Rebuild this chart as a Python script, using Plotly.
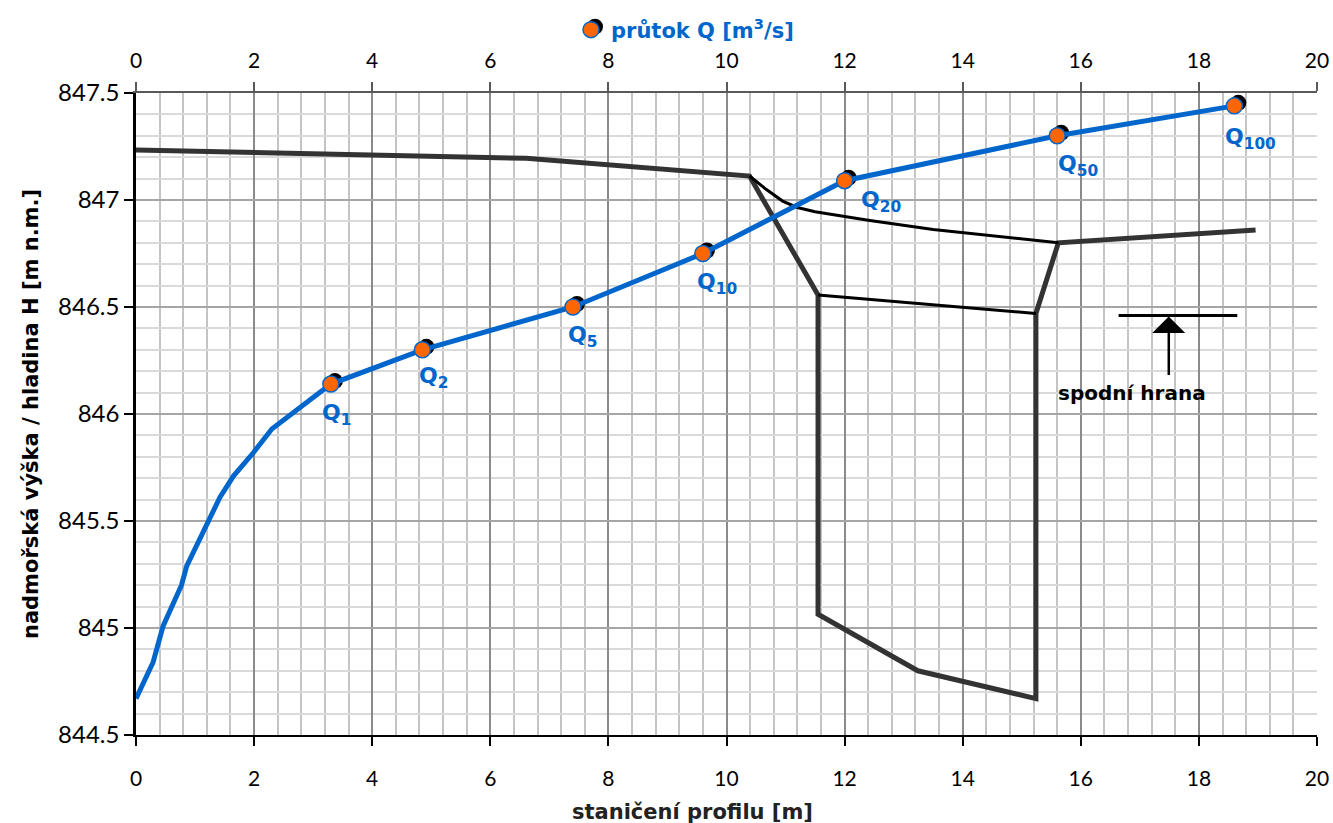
import plotly.graph_objects as go

# --- rating curve (discharge Q vs. water level H) ---
low_flow = [0.0, 0.29, 0.46, 0.77, 0.86, 1.17, 1.42, 1.65, 1.99, 2.30]
low_level = [844.67, 844.84, 845.01, 845.20, 845.29, 845.47, 845.61, 845.71, 845.82, 845.93]

q_names = ["1", "2", "5", "10", "20", "50", "100"]
q_flow = [3.30, 4.85, 7.40, 9.60, 12.00, 15.60, 18.60]
q_level = [846.14, 846.30, 846.50, 846.75, 847.09, 847.30, 847.44]

# label offsets (px) for the Q_N labels
q_xshift = [-11, -5, -7, -8, 14, -1, -11]
q_yshift = [-14, -11, -13, -13, -4, -13, -16]

# --- cross-section of the profile ---
bank_x = [0.0, 6.61, 10.39, 11.55, 11.55, 13.24, 15.24, 15.24, 15.62, 18.96]
bank_h = [847.234, 847.195, 847.112, 846.556, 845.064, 844.80, 844.67, 846.47, 846.80, 846.86]

deck_x = [10.39, 10.67, 10.95, 11.20, 11.50, 12.40, 13.50, 15.62]
deck_h = [847.112, 847.05, 846.995, 846.965, 846.945, 846.905, 846.862, 846.80]

soffit_x = [11.55, 15.24]
soffit_h = [846.556, 846.47]

# bottom-edge marker
edge_x = [16.64, 18.65]
edge_h = 846.46
arrow_x = 17.49
arrow_tail_h = 846.175
edge_label_x = 16.87
edge_label_h = 846.10

X_RANGE = [0, 20]
Y_RANGE = [844.5, 847.5]

W, H = 1333, 823
M = dict(l=136, r=16, t=0, b=88)
PLOT_TOP = 93                       # px from the top where the axes start
paper_w = W - M["l"] - M["r"]
paper_h = H - M["t"] - M["b"]
y_domain = [0, (paper_h - PLOT_TOP) / paper_h]
px_x = paper_w / (X_RANGE[1] - X_RANGE[0])
px_y = (paper_h - PLOT_TOP) / (Y_RANGE[1] - Y_RANGE[0])
SHADOW_DX, SHADOW_DY = 4, 3

BLUE = "#0066CC"
ORANGE = "#FF6600"
DARK = "#333333"
X_TICK_FONT = dict(family="Lato", size=21, color="#000000")
Y_TICK_FONT = dict(family="Lato", size=24, color="#000000")
BOLD = "DejaVu Sans"

fig = go.Figure()

# cross-section lines
fig.add_trace(go.Scatter(x=bank_x, y=bank_h, mode="lines",
                         line=dict(color=DARK, width=5), showlegend=False,
                         hoverinfo="skip"))
fig.add_trace(go.Scatter(x=deck_x, y=deck_h, mode="lines",
                         line=dict(color="#000000", width=3), showlegend=False,
                         hoverinfo="skip"))
fig.add_trace(go.Scatter(x=soffit_x, y=soffit_h, mode="lines",
                         line=dict(color="#000000", width=3), showlegend=False,
                         hoverinfo="skip"))
fig.add_trace(go.Scatter(x=edge_x, y=[edge_h, edge_h], mode="lines",
                         line=dict(color="#000000", width=3), showlegend=False,
                         hoverinfo="skip"))

# marker shadows (on offset helper axes)
fig.add_trace(go.Scatter(x=q_flow, y=q_level, xaxis="x2", yaxis="y2",
                         mode="markers", name="",
                         marker=dict(size=16, color="#000000"),
                         legend="legend", showlegend=True, hoverinfo="skip"))

# rating curve
fig.add_trace(go.Scatter(x=low_flow + q_flow, y=low_level + q_level,
                         xaxis="x3", yaxis="y", mode="lines",
                         line=dict(color=BLUE, width=5), showlegend=False,
                         hoverinfo="skip"))
fig.add_trace(go.Scatter(x=q_flow, y=q_level, xaxis="x3", yaxis="y",
                         mode="markers", name="průtok Q [m<sup>3</sup>/s]",
                         marker=dict(size=16, color=ORANGE,
                                     line=dict(color=BLUE, width=1.5)),
                         legend="legend2", showlegend=True))

annotations = []
for name, qx, qy, dx, dy in zip(q_names, q_flow, q_level, q_xshift, q_yshift):
    annotations.append(dict(
        x=qx, y=qy, xref="x3", yref="y", text=f"Q<sub>{name}</sub>",
        showarrow=False, xanchor="left", yanchor="top", xshift=dx, yshift=dy,
        font=dict(family=BOLD, size=22, color=BLUE, weight="bold")))

annotations.append(dict(
    x=arrow_x, y=edge_h, ax=arrow_x, ay=arrow_tail_h, xref="x", yref="y",
    axref="x", ayref="y", text="", showarrow=True, arrowhead=1,
    arrowsize=2.2, arrowwidth=2.5, arrowcolor="#000000", standoff=1))
annotations.append(dict(
    x=edge_label_x, y=edge_label_h, xref="x", yref="y", text="spodní hrana",
    showarrow=False, xanchor="center", yanchor="middle",
    font=dict(family=BOLD, size=20, color="#000000", weight="bold")))

# x-axis title (sits a little left of the plot centre)
annotations.append(dict(
    x=(692 - M["l"]) / paper_w, y=0, xref="paper", yref="paper",
    text="staničení profilu [m]", showarrow=False, xanchor="center",
    yanchor="middle", yshift=-77,
    font=dict(family=BOLD, size=21, color="#222222", weight="bold")))

LEG_X = (571 - M["l"]) / paper_w
LEG_Y = (paper_h - 30) / paper_h
LEG_FONT = dict(family=BOLD, size=21, color=BLUE, weight="bold")

fig.update_layout(
    width=W, height=H, margin=M,
    paper_bgcolor="white", plot_bgcolor="white",
    showlegend=True,
    legend=dict(x=LEG_X + SHADOW_DX / paper_w, y=LEG_Y + SHADOW_DY / paper_h,
                xanchor="left", yanchor="middle", bgcolor="rgba(0,0,0,0)",
                font=LEG_FONT, itemsizing="trace"),
    legend2=dict(x=LEG_X, y=LEG_Y, xanchor="left", yanchor="middle",
                 bgcolor="rgba(0,0,0,0)", font=LEG_FONT, itemsizing="trace"),
    xaxis=dict(range=X_RANGE, dtick=2, tick0=0, showgrid=True,
               gridcolor="#8a8a8a", gridwidth=1.5,
               minor=dict(dtick=0.4, showgrid=True, gridcolor="#c4c4c4",
                          gridwidth=1.5),
               showline=True, linecolor="#000000", linewidth=2,
               ticks="outside", ticklen=9, tickwidth=1.5, tickcolor="#000000",
               tickfont=X_TICK_FONT, ticklabelstandoff=15, zeroline=False,
               automargin=False),
    yaxis=dict(range=Y_RANGE, domain=y_domain, dtick=0.5, tick0=844.5,
               showgrid=True, gridcolor="#a6a6a6", gridwidth=1.5,
               minor=dict(dtick=0.1, showgrid=True, gridcolor="#dadada",
                          gridwidth=1.5),
               showline=True, linecolor="#000000", linewidth=2.5,
               ticks="outside", ticklen=9, tickwidth=1.5, tickcolor="#000000",
               tickfont=Y_TICK_FONT, zeroline=False, automargin=False,
               title=dict(text="nadmořská výška / hladina H [m n.m.]",
                          standoff=14,
                          font=dict(family=BOLD, size=21, color="#000000",
                                    weight="bold"))),
    xaxis2=dict(range=[X_RANGE[0] - SHADOW_DX / px_x, X_RANGE[1] - SHADOW_DX / px_x],
                overlaying="x", visible=False),
    yaxis2=dict(range=[Y_RANGE[0] - SHADOW_DY / px_y, Y_RANGE[1] - SHADOW_DY / px_y],
                domain=y_domain, overlaying="y", visible=False),
    xaxis3=dict(range=X_RANGE, dtick=2, tick0=0, overlaying="x", side="top",
                showgrid=False, zeroline=False, showline=True,
                linecolor="#595959", linewidth=2, ticks="outside", ticklen=9,
                tickwidth=1.5, tickcolor="#595959", tickfont=X_TICK_FONT,
                ticklabelstandoff=6, automargin=False),
    annotations=annotations,
)

fig.write_html("out.html")
